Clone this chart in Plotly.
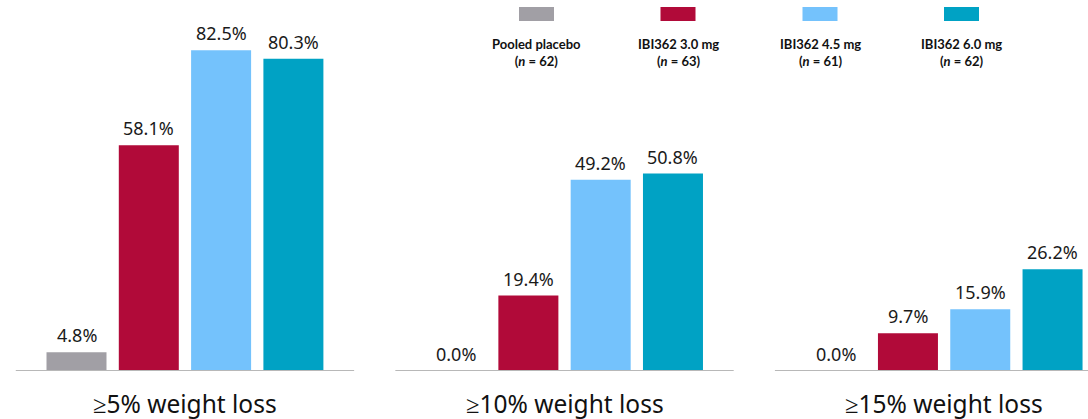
import plotly.graph_objects as go

# Proportion of participants reaching each weight-loss threshold
thresholds = ["≥5% weight loss", "≥10% weight loss", "≥15% weight loss"]
arms = ["Pooled placebo", "IBI362 3.0 mg", "IBI362 4.5 mg", "IBI362 6.0 mg"]
arm_n = [62, 63, 61, 62]
arm_colors = ["#A19FA5", "#B10A39", "#74C2FC", "#00A2C4"]

placebo = [4.8, 0.0, 0.0]
dose_30 = [58.1, 19.4, 9.7]
dose_45 = [82.5, 49.2, 15.9]
dose_60 = [80.3, 50.8, 26.2]
series = [placebo, dose_30, dose_45, dose_60]

GROUP_GAP = 5.25   # distance between threshold groups, in bar slots
BAR_WIDTH = 0.83
W, H = 1088, 419
PLOT_H = 371       # plot area height in px (margin b = H - PLOT_H)

fig = go.Figure()
annotations = []
shapes = []

for i, (name, vals, col) in enumerate(zip(arms, series, arm_colors)):
    xs = [g * GROUP_GAP + i for g in range(len(thresholds))]
    fig.add_trace(go.Bar(
        x=xs, y=vals, width=BAR_WIDTH, name=name,
        marker=dict(color=col, line=dict(width=0)),
        showlegend=False, hoverinfo="skip",
    ))
    for x, v in zip(xs, vals):
        annotations.append(dict(
            x=x, y=v, xref="x", yref="y", text=f"{v:.1f}%",
            showarrow=False, yanchor="bottom", xanchor="center", yshift=3,
            font=dict(family="Noto Sans", size=18, color="#1A1A1A"),
        ))

# Baseline under each group and the group caption
for g, label in enumerate(thresholds):
    x0 = g * GROUP_GAP - 0.84
    x1 = g * GROUP_GAP + 3.84
    shapes.append(dict(type="line", xref="x", yref="y", x0=x0, x1=x1, y0=0, y1=0,
                       line=dict(color="#B8B8B8", width=2), layer="above"))
    annotations.append(dict(
        x=g * GROUP_GAP + 1.5, xref="x", y=(PLOT_H - 403) / PLOT_H, yref="paper",
        text=label, showarrow=False, xanchor="center", yanchor="middle",
        font=dict(family="Noto Sans", size=24.5, color="#111111"),
    ))

# Legend: swatch above a two-line bold caption
legend_cx = [536.5, 678, 820, 961.5]
for cx, name, n, col in zip(legend_cx, arms, arm_n, arm_colors):
    shapes.append(dict(type="rect", xref="paper", yref="paper",
                       x0=(cx - 17.5) / W, x1=(cx + 17.5) / W,
                       y0=(PLOT_H - 21) / PLOT_H, y1=(PLOT_H - 7) / PLOT_H,
                       fillcolor=col, line=dict(width=0)))
    annotations.append(dict(
        x=cx / W, xref="paper", y=(PLOT_H - 52) / PLOT_H, yref="paper",
        text=f"<b>{name}<br>(<i>n</i> = {n})</b>", showarrow=False,
        xanchor="center", yanchor="middle", align="center",
        font=dict(family="Lato", size=13, color="#111111"),
    ))

x_left = -76.5 / 72.3
fig.update_layout(
    width=W, height=H,
    margin=dict(l=0, r=0, t=0, b=H - PLOT_H),
    paper_bgcolor="white", plot_bgcolor="white",
    barmode="overlay",
    xaxis=dict(range=[x_left, x_left + W / 72.3], visible=False, fixedrange=True),
    yaxis=dict(range=[0, PLOT_H / 3.887], visible=False, fixedrange=True),
    annotations=annotations, shapes=shapes,
)

fig.write_html("out.html")
